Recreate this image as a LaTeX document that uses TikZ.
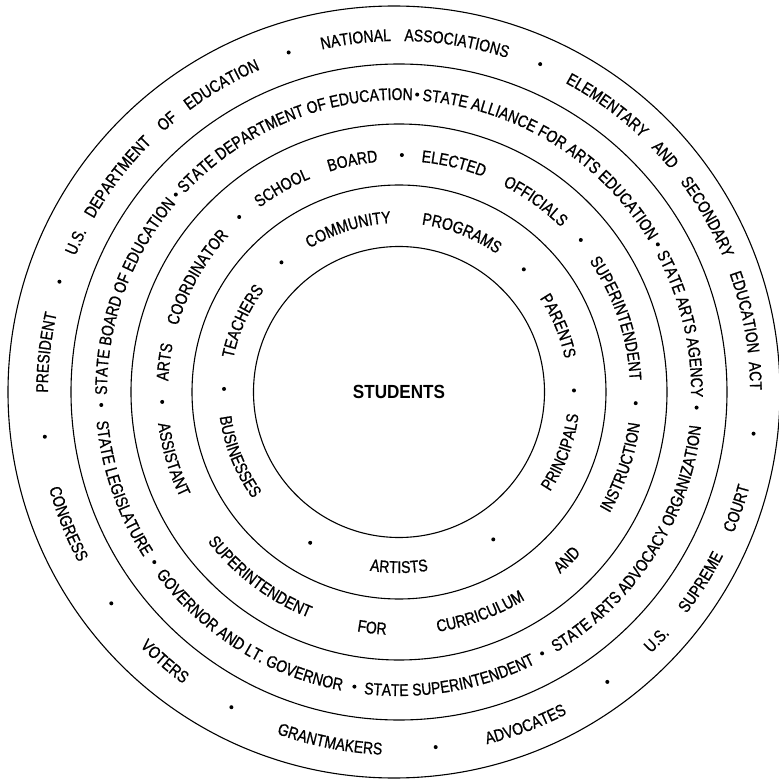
\documentclass[tikz,border=0pt]{standalone}
\usepackage{fontspec}
\newfontfamily\ringfont[FakeStretch=0.82,FakeBold=0.8]{Liberation Sans}
\newfontfamily\hubfont[FakeStretch=0.9]{Liberation Sans}
\usetikzlibrary{decorations.text}

% word set on an arc, centred at an angle: radius, angle, text
\newcommand\toparc[3]{\path[decorate,decoration={text along path,text={#3},text align=center}]
  (#2+60:#1) arc[start angle=#2+60,end angle=#2-60,radius=#1];}
\newcommand\lowarc[3]{\path[decorate,decoration={text along path,text={#3},text align=center}]
  (#2-60:#1) arc[start angle=#2-60,end angle=#2+60,radius=#1];}

\begin{document}
\begin{tikzpicture}[x=1pt,y=1pt,ring/.style={line width=1.1pt}]
    \useasboundingbox (-399,-390) rectangle (380,392);
    \draw[ring] (0,0) circle[radius=145.5] (0,0) circle[radius=207]
      (0,0) circle[radius=268] (0,0) circle[radius=328] (-5,0) circle[radius=386];
    \node[font=\hubfont\bfseries\fontsize{19}{22}\selectfont] (students) at (0,0) {STUDENTS};

    \begin{scope}
      \ringfont\fontsize{17}{20}\selectfont
      % ring 1
      \foreach \a/\w in {155.7/TEACHERS,107.3/COMMUNITY,68.5/PROGRAMS,22.5/PARENTS}
        {\edef\arcword{\noexpand\toparc{169}{\a}{\w}}\arcword}
      \foreach \a/\w in {-158/BUSINESSES,-90/ARTISTS,-20.3/PRINCIPALS}
        {\edef\arcword{\noexpand\lowarc{181}{\a}{\w}}\arcword}
      \foreach \a in {179,132.2,44.5,0.5,-57.4,-120.5}
        \fill (\a:175) circle[radius=2];
      % ring 2
      \foreach \a/\w in {172.7/ARTS,150.4/COORDINATOR,119.8/SCHOOL,101.4/BOARD,
        76.5/ELECTED,54.4/OFFICIALS,18.7/SUPERINTENDENT}
        {\edef\arcword{\noexpand\toparc{231}{\a}{\w}}\arcword}
      \foreach \a/\w in {-163.4/ASSISTANT,-126.9/SUPERINTENDENT,-96.5/FOR,
        -69.8/CURRICULUM,-45/AND,-18.7/INSTRUCTION}
        {\edef\arcword{\noexpand\lowarc{243}{\a}{\w}}\arcword}
      \foreach \a in {182.4,132.4,89.3,39.9,-2.7}
        \fill (\a:237) circle[radius=2];
      % ring 3
      \foreach \a/\w in {160.2/STATE BOARD OF EDUCATION,112.3/STATE DEPARTMENT OF EDUCATION,
        58.3/STATE ALLIANCE FOR ARTS EDUCATION,13.6/STATE ARTS AGENCY}
        {\edef\arcword{\noexpand\toparc{292}{\a}{\w}}\arcword}
      \foreach \a/\w in {-160.8/STATE LEGISLATURE,-122/GOVERNOR AND LT. GOVERNOR,
        -80/STATE SUPERINTENDENT,-32.7/STATE ARTS ADVOCACY ORGANIZATION}
        {\edef\arcword{\noexpand\lowarc{304}{\a}{\w}}\arcword}
      \foreach \a in {182.5,138.5,86.5,29.7,-3,-145.2,-98.6,-61.3}
        \fill (\a:298) circle[radius=2];
      % ring 4
      \foreach \a/\w in {173.6/PRESIDENT,155/U.S.,142.6/DEPARTMENT,130.6/OF,120/EDUCATION,
        97/NATIONAL,80.6/ASSOCIATIONS,54/ELEMENTARY,41.7/AND,29.6/SECONDARY,
        13/EDUCATION,2.6/ACT}
        {\edef\arcword{\noexpand\toparc{351}{\a}{\w}}\arcword}
      \foreach \a/\w in {-158.3/CONGRESS,-131/VOTERS,-101.2/GRANTMAKERS,-69.2/ADVOCATES,
        -43.9/U.S.,-32.2/SUPREME,-19/COURT}
        {\edef\arcword{\noexpand\lowarc{363}{\a}{\w}}\arcword}
      \foreach \a in {187.2,162,108,66.7,-6.7,-54.3,-84.1,-118,-143.7}
        \fill (\a:357) circle[radius=2];
    \end{scope}
  \end{tikzpicture}
\end{document}
